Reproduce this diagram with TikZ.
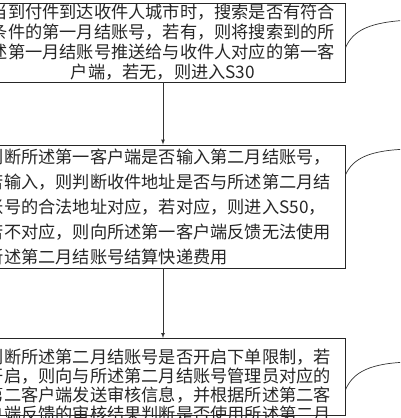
\documentclass[tikz,border=0pt]{standalone}
\usepackage{fontspec}
\newfontfamily\cjk{Noto Sans CJK SC}

\begin{document}
\begin{tikzpicture}[x=1pt,y=-1pt,
  stepbox/.style={draw=black!85, line width=0.8pt, text=black!85, text width=352pt, inner xsep=6pt},
  link/.style={draw=black!80, line width=0.7pt}]
\useasboundingbox (0,0) rectangle (400,418);
\clip (0,0) rectangle (400,418);
\node[stepbox, align=center, inner ysep=1pt, minimum height=79pt, font=\cjk\fontsize{17.2}{20}\selectfont] (b1) at (163,42.5)
  {当到付件到达收件人城市时，搜索是否有符合\\条件的第一月结账号，若有，则将搜索到的所\\述第一月结账号推送给与收件人对应的第一客\\户端，若无，则进入S30};
\node[stepbox, align=left, inner ysep=3pt, minimum height=123pt, font=\cjk\fontsize{17.2}{25}\selectfont] (b2) at (163,206.5)
  {判断所述第一客户端是否输入第二月结账号，\\若输入，则判断收件地址是否与所述第二月结\\账号的合法地址对应，若对应，则进入S50，\\若不对应，则向所述第一客户端反馈无法使用\\所述第二月结账号结算快递费用};
\node[stepbox, align=left, anchor=north, inner ysep=11pt, text depth=40pt, font=\cjk\fontsize{17.2}{19}\selectfont] (b3) at (163,338)
  {判断所述第二月结账号是否开启下单限制，若\\开启，则向与所述第二月结账号管理员对应的\\第二客户端发送审核信息，并根据所述第二客\\户端反馈的审核结果判断是否使用所述第二月};
\coordinate (l1) at (410,20);
\coordinate (l2) at (410,149);
\coordinate (l3) at (410,362);
\path[link,->,>=latex] (b1) -- (b2);
\path[link,->,>=latex] (b2) -- (b3);
\path[link] ([yshift=-5.5pt]b1.east) .. controls (353,30) and (370,22) .. (l1);
\path[link] ([yshift=31.5pt]b2.east) .. controls (353,158) and (370,150) .. (l2);
\path[link] ([yshift=-52pt]b3.north east) .. controls (353,372) and (370,363) .. (l3);
\end{tikzpicture}
\end{document}
